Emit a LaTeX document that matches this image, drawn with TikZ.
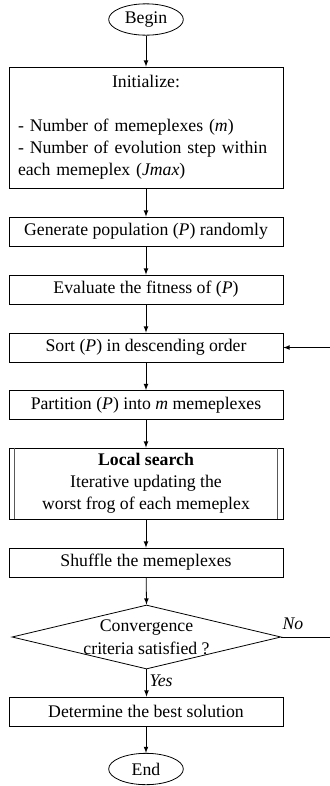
\documentclass[tikz,border=0pt]{standalone}
\usepackage{fontspec}
\setmainfont{Liberation Serif}
\usetikzlibrary{shapes, arrows}

\begin{document}
\begin{tikzpicture}[x=0.75pt, y=-0.75pt, line width=0.6pt, font=\fontsize{13.3}{16.5}\selectfont,
  box/.style={draw, rectangle, minimum width=205.5pt, minimum height=21.75pt, inner sep=2pt},
  term/.style={draw, ellipse, minimum width=56pt, minimum height=23.5pt, inner sep=0pt},
  flow/.style={-latex}]
  \useasboundingbox (0,0) rectangle (329,786);
  \node[term] (start) at (146,19.5) {Begin};
  \node[box, minimum height=90.75pt, text width=192pt, inner xsep=6.75pt, align=left] (init) at (146,127.5)
    {\centerline{Initialize:}\vskip16.5pt
     - Number of memeplexes (\textit{m})\\
     - Number of evolution step within\\
     each memeplex (\textit{Jmax})\vskip5pt};
  \node[box] (gen) at (146,231.5) {Generate population (\textit{P}) randomly};
  \node[box] (eval) at (146,289.5) {Evaluate the fitness of (\textit{P})};
  \node[box] (sort) at (146,347.5) {Sort (\textit{P}) in descending order};
  \node[box] (part) at (146,405) {Partition (\textit{P}) into \textit{m} memeplexes};
  \node[box, minimum height=53.25pt, align=center] (local) at (146,483.5)
    {\textbf{Local search}\\Iterative updating the\\worst frog of each memeplex};
  \node[box] (shuf) at (146,562.5) {Shuffle the memeplexes};
  \node[draw, diamond, minimum width=201.75pt, minimum height=48pt, inner xsep=-34pt,
    inner ysep=-15pt, align=center, font=\fontsize{13.3}{17}\selectfont] (dia) at (146.5,637)
    {Convergence\\criteria satisfied ?};
  \node[box] (det) at (146,711.5) {Determine the best solution};
  \node[term] (stop) at (146,769) {End};
  \coordinate (loopr) at (333,637);
  % sub-process edges
  \draw[line width=0.5pt, gray!70!black] ([xshift=4.5pt]local.north west) -- ([xshift=4.5pt]local.south west);
  \draw[line width=0.5pt, gray!70!black] ([xshift=-4.5pt]local.north east) -- ([xshift=-4.5pt]local.south east);
  % main flow
  \draw[flow] (start) -- (init);
  \draw[flow] (init) -- (gen);
  \draw[flow] (gen) -- (eval);
  \draw[flow] (eval) -- (sort);
  \draw[flow] (sort) -- (part);
  \draw[flow] (part) -- (local);
  \draw[flow] (local) -- (shuf);
  \draw[flow] (shuf) -- (dia.north);
  \draw[flow] (dia.south) -- (det.north -| dia.south) node[pos=0.4, right, inner sep=2pt, font=\itshape\fontsize{13.3}{14}\selectfont] (yes) {Yes};
  \draw[flow] (det) -- (stop);
  % loop back
  \draw[flow] (dia.east) -- (loopr) |- (sort.east);
  \node[font=\itshape\fontsize{13.3}{14}\selectfont] (no) at (293,624) {No};
\end{tikzpicture}
\end{document}
